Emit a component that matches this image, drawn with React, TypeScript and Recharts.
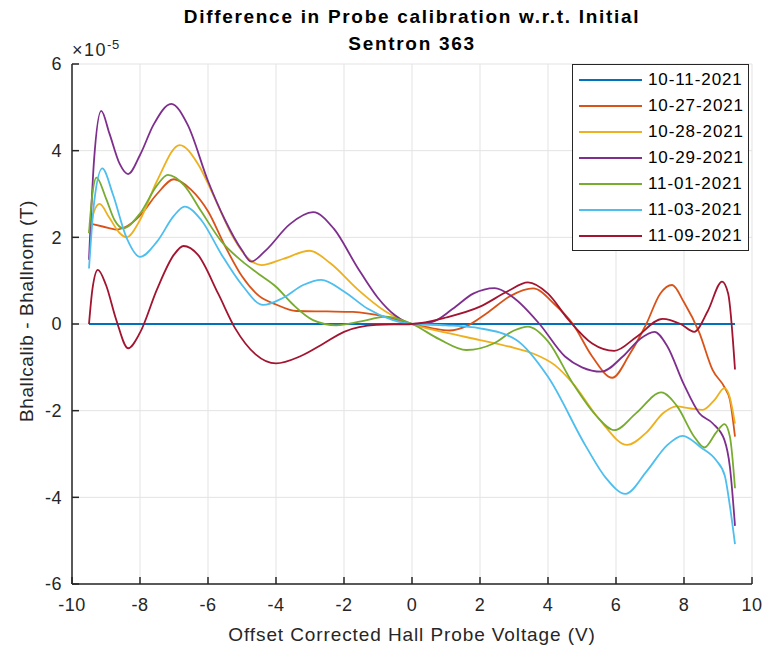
import React from "react";
import { LineChart, Line, XAxis, YAxis, CartesianGrid } from "recharts";

// values are in units of 1e-5 T (axis shows the x10^-5 exponent)
const X_TICKS = [-10, -8, -6, -4, -2, 0, 2, 4, 6, 8, 10];
const Y_TICKS = [-6, -4, -2, 0, 2, 4, 6];

const d1011: [number, number][] = [
  [-9.5, 0], [0, 0], [9.5, 0],
];

const d1027: [number, number][] = [
  [-9.5, 2.32], [-9.1, 2.25], [-8.7, 2.18], [-8.4, 2.25], [-8.0, 2.5], [-7.5, 3.0],
  [-7.0, 3.34], [-6.5, 3.1], [-6.0, 2.6], [-5.5, 1.8], [-5.0, 1.1], [-4.5, 0.65],
  [-4.0, 0.45], [-3.4, 0.3], [-2.5, 0.29], [-1.74, 0.28], [-0.8, 0.17], [0, 0],
  [0.6, -0.1], [1.1, -0.15], [1.6, -0.05], [2.2, 0.25], [2.9, 0.65], [3.56, 0.82],
  [4.2, 0.45], [4.73, 0], [5.3, -0.75], [5.89, -1.24], [6.4, -0.7], [6.89, 0],
  [7.3, 0.7], [7.65, 0.9], [8.0, 0.5], [8.45, -0.2], [8.84, -1.06], [9.19, -1.46],
  [9.35, -1.75], [9.5, -2.6],
];

const d1028: [number, number][] = [
  [-9.5, 2.09], [-9.35, 2.6], [-9.19, 2.77], [-8.9, 2.45], [-8.6, 2.1], [-8.4, 2.0],
  [-8.0, 2.4], [-7.5, 3.3], [-6.83, 4.13], [-6.3, 3.7], [-5.8, 2.9], [-5.26, 2.0],
  [-4.8, 1.5], [-4.43, 1.36], [-3.8, 1.5], [-3.01, 1.69], [-2.4, 1.4], [-1.6, 0.8],
  [-0.8, 0.3], [0, 0], [1.0, -0.2], [2.0, -0.37], [3.0, -0.55], [3.56, -0.68],
  [4.2, -0.95], [4.73, -1.37], [5.51, -2.2], [6.33, -2.79], [6.9, -2.5], [7.4, -2.05],
  [7.77, -1.9], [8.2, -1.95], [8.55, -1.98], [8.9, -1.75], [9.19, -1.48], [9.35, -1.7],
  [9.5, -2.3],
];

const d1029: [number, number][] = [
  [-9.5, 1.48], [-9.35, 3.8], [-9.14, 4.92], [-8.9, 4.4], [-8.6, 3.7], [-8.35, 3.46],
  [-8.0, 3.9], [-7.6, 4.6], [-7.08, 5.08], [-6.6, 4.6], [-6.0, 3.3], [-5.5, 2.4],
  [-5.0, 1.7], [-4.73, 1.44], [-4.3, 1.7], [-3.6, 2.3], [-2.91, 2.58], [-2.3, 2.2],
  [-1.6, 1.3], [-1.0, 0.6], [-0.5, 0.2], [0, 0], [0.6, 0.05], [1.2, 0.35], [1.8, 0.7],
  [2.43, 0.83], [3.0, 0.6], [3.75, 0], [4.5, -0.75], [5.0, -1.0], [5.57, -1.1],
  [6.2, -0.75], [6.7, -0.35], [7.13, -0.18], [7.5, -0.5], [8.0, -1.4], [8.45, -2.06],
  [8.84, -2.29], [9.19, -2.68], [9.35, -3.3], [9.5, -4.66],
];

const d1101: [number, number][] = [
  [-9.5, 2.1], [-9.4, 3.0], [-9.28, 3.38], [-9.0, 2.9], [-8.75, 2.4], [-8.5, 2.21],
  [-8.0, 2.55], [-7.5, 3.2], [-7.18, 3.44], [-6.7, 3.2], [-6.2, 2.6], [-5.6, 1.9],
  [-5.0, 1.45], [-4.5, 1.15], [-4.0, 0.86], [-3.5, 0.45], [-2.91, 0.09], [-2.23, -0.03],
  [-1.5, 0.06], [-0.76, 0.17], [0, 0], [0.8, -0.35], [1.6, -0.6], [2.4, -0.45],
  [3.0, -0.15], [3.41, -0.06], [4.0, -0.4], [4.73, -1.37], [5.4, -2.1], [5.95, -2.45],
  [6.6, -2.05], [7.33, -1.58], [7.8, -1.9], [8.3, -2.6], [8.6, -2.85], [8.95, -2.5],
  [9.19, -2.31], [9.35, -2.6], [9.5, -3.79],
];

const d1103: [number, number][] = [
  [-9.5, 1.28], [-9.35, 2.8], [-9.11, 3.59], [-8.8, 3.0], [-8.4, 2.0], [-8.0, 1.55],
  [-7.5, 1.9], [-7.0, 2.5], [-6.69, 2.71], [-6.2, 2.4], [-5.6, 1.6], [-5.0, 0.9],
  [-4.38, 0.44], [-3.8, 0.6], [-3.2, 0.9], [-2.67, 1.02], [-2.0, 0.75], [-1.3, 0.35],
  [-0.6, 0.1], [0, 0], [1.0, -0.03], [2.0, -0.1], [3.07, -0.37], [4.0, -1.22],
  [5.12, -2.83], [5.7, -3.55], [6.28, -3.92], [6.9, -3.4], [7.5, -2.8], [7.96, -2.58],
  [8.5, -2.85], [8.94, -3.14], [9.2, -3.5], [9.35, -4.2], [9.5, -5.08],
];

const d1109: [number, number][] = [
  [-9.5, 0], [-9.4, 0.8], [-9.24, 1.25], [-9.0, 0.9], [-8.7, 0.1], [-8.35, -0.56],
  [-8.0, -0.2], [-7.5, 0.8], [-7.0, 1.6], [-6.72, 1.8], [-6.3, 1.6], [-5.7, 0.7],
  [-5.2, -0.1], [-4.6, -0.7], [-4.0, -0.91], [-3.3, -0.75], [-2.6, -0.45], [-2.0, -0.18],
  [-1.05, -0.02], [0, 0], [1.0, 0.15], [2.0, 0.4], [2.8, 0.75], [3.41, 0.96],
  [4.0, 0.7], [4.6, 0.1], [5.3, -0.45], [5.95, -0.62], [6.6, -0.3], [7.37, 0.12],
  [7.9, 0], [8.3, -0.18], [8.7, 0.3], [9.12, 0.98], [9.3, 0.7], [9.5, -1.05],
];

const SERIES = [
  { name: "10-11-2021", color: "#0072BD", pts: d1011 },
  { name: "10-27-2021", color: "#D95319", pts: d1027 },
  { name: "10-28-2021", color: "#EDB120", pts: d1028 },
  { name: "10-29-2021", color: "#7E2F8E", pts: d1029 },
  { name: "11-01-2021", color: "#77AC30", pts: d1101 },
  { name: "11-03-2021", color: "#4DBEEE", pts: d1103 },
  { name: "11-09-2021", color: "#A2142F", pts: d1109 },
];

const FONT = "'Liberation Sans', Arial, Helvetica, sans-serif";
const AXIS = "#262626";

function LegendBox() {
  return (
    <div
      style={{
        position: "absolute",
        left: 572,
        top: 64,
        width: 177,
        height: 187,
        boxSizing: "border-box",
        border: "1px solid #262626",
        background: "#fff",
        padding: "2px 0 0 6px",
        fontSize: 17,
        letterSpacing: 0.9,
        color: "#000",
      }}
    >
      {SERIES.map((s) => (
        <div key={s.name} style={{ display: "flex", alignItems: "center", height: 26 }}>
          <div style={{ width: 63, height: 2, background: s.color, marginRight: 6 }} />
          <span>{s.name}</span>
        </div>
      ))}
    </div>
  );
}

export default function App() {
  return (
    <div style={{ position: "absolute", left: 0, top: 0, width: 764, height: 651, background: "#fff", fontFamily: FONT }}>
      <div style={{ position: "absolute", left: 0, width: 824, top: 3, textAlign: "center", fontWeight: "bold", fontSize: 19, letterSpacing: 1.7, lineHeight: "27px", color: "#000" }}>
        <div>Difference in Probe calibration w.r.t. Initial</div>
        <div>Sentron 363</div>
      </div>
      <div style={{ position: "absolute", left: 72, top: 37, fontSize: 18, letterSpacing: 1.5, color: AXIS }}>
        ×10<sup style={{ fontSize: 13, verticalAlign: "7px", letterSpacing: 0.5 }}>-5</sup>
      </div>
      <div
        style={{
          position: "absolute",
          left: 27,
          top: 311,
          transform: "translate(-50%, -50%) rotate(-90deg)",
          whiteSpace: "nowrap",
          fontSize: 19,
          letterSpacing: 0.6,
          color: AXIS,
        }}
      >
        Bhallcalib - Bhallnom (T)
      </div>
      <div style={{ position: "absolute", left: 0, width: 824, top: 624, textAlign: "center", fontSize: 19, letterSpacing: 0.9, color: AXIS }}>
        Offset Corrected Hall Probe Voltage (V)
      </div>
      <LineChart width={764} height={651} margin={{ top: 64, right: 12, left: 0, bottom: 0 }}>
        <CartesianGrid stroke="#e3e3e3" strokeWidth={1} horizontalValues={Y_TICKS} verticalValues={X_TICKS} />
        <XAxis
          type="number"
          dataKey="x"
          domain={[-10, 10]}
          ticks={X_TICKS}
          allowDataOverflow
          height={67}
          tickSize={-7}
          tickMargin={21}
          tick={{ fontSize: 18, fill: AXIS, fontFamily: FONT, letterSpacing: 0.5 }}
          axisLine={{ stroke: AXIS, strokeWidth: 1.5 }}
          tickLine={{ stroke: AXIS, strokeWidth: 1.5 }}
        />
        <YAxis
          type="number"
          dataKey="y"
          domain={[-6, 6]}
          ticks={Y_TICKS}
          allowDataOverflow
          width={72}
          tickSize={-7}
          tickMargin={17}
          tick={{ fontSize: 18, fill: AXIS, fontFamily: FONT, letterSpacing: 0.5 }}
          axisLine={{ stroke: AXIS, strokeWidth: 1.5 }}
          tickLine={{ stroke: AXIS, strokeWidth: 1.5 }}
        />
        {SERIES.map((s) => (
          <Line
            key={s.name}
            name={s.name}
            data={s.pts.map(([x, y]) => ({ x, y }))}
            dataKey="y"
            type="monotone"
            stroke={s.color}
            strokeWidth={1.8}
            dot={false}
            activeDot={false}
            isAnimationActive={false}
          />
        ))}
      </LineChart>
      <LegendBox />
    </div>
  );
}
